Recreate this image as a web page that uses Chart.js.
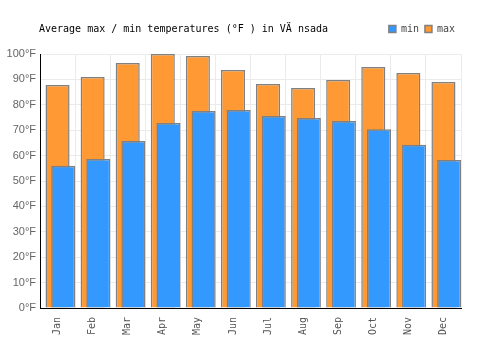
<!DOCTYPE html>
<html lang="en">
  <head>
    <meta charset="UTF-8" />
    <title>Average max / min temperatures</title>
    <script src="https://cdn.jsdelivr.net/npm/chart.js"></script>
    <style>
      body { margin: 0; background: #fff; }
      #wrap { position: relative; width: 500px; height: 350px; }
      #title {
        position: absolute; left: 39px; top: 23px;
        font: 10px "DejaVu Sans Mono", monospace; color: #000;
        white-space: pre;
      }
    </style>
  </head>
  <body>
    <div id="wrap">
      <canvas id="myChart" width="500" height="350"></canvas>
      <div id="title">Average max / min temperatures (°F ) in VÄ nsada</div>
    </div>

    <script>
      const months = ["Jan", "Feb", "Mar", "Apr", "May", "Jun", "Jul", "Aug", "Sep", "Oct", "Nov", "Dec"];
      const maxTemps = [87.8, 90.9, 96.5, 100, 99.2, 93.7, 88.2, 86.6, 89.8, 94.9, 92.5, 89.0];
      const minTemps = [56.0, 58.7, 65.7, 72.8, 77.6, 78.0, 75.6, 74.8, 73.6, 70.4, 64.3, 58.3];
      const yTicks = [0, 10, 20, 30, 40, 50, 60, 70, 80, 90, 100];

      const mono = { family: "'DejaVu Sans Mono', monospace", size: 10 };

      new Chart(document.getElementById("myChart"), {
        type: "bar",
        data: {
          labels: months,
          datasets: [
            {
              label: "min",
              xAxisID: "x2",
              // shifted right inside each month, on its own hidden axis
              data: minTemps.map((v, i) => ({ x: i, y: v })),
              backgroundColor: "#3399ff",
              borderColor: "#808080",
              borderWidth: 1.5,
              grouped: false,
              categoryPercentage: 1,
              barPercentage: 0.686,
            },
            {
              label: "max",
              xAxisID: "x",
              data: maxTemps,
              backgroundColor: "#ff9933",
              borderColor: "#808080",
              borderWidth: 1.5,
              grouped: false,
              categoryPercentage: 1,
              barPercentage: 0.686,
            },
          ],
        },
        options: {
          responsive: false,
          animation: false,
          layout: { padding: { left: 0, right: 39, top: 18, bottom: 0 } },
          plugins: {
            tooltip: { enabled: false },
            // empty title used only as a gap under the legend
            title: {
              display: true,
              text: "",
              weight: 500,
              font: { size: 1, lineHeight: 1 },
              padding: { top: 0, bottom: 9 },
            },
            legend: {
              position: "top",
              align: "end",
              labels: {
                boxWidth: 7,
                boxHeight: 7,
                padding: 6,
                color: "#444",
                font: mono,
              },
            },
          },
          scales: {
            x: {
              type: "category",
              offset: true,
              grid: { offset: true, color: "#ebebeb", drawTicks: false },
              border: { color: "#000", width: 1 },
              ticks: {
                color: "#555",
                font: mono,
                minRotation: 90,
                maxRotation: 90,
                padding: 9,
              },
              afterFit: (s) => { s.height = 42; },
            },
            x2: {
              type: "linear",
              display: false,
              offset: false,
              min: -0.663,
              max: 11.337,
              grid: { display: false },
            },
            y: {
              min: 0,
              max: 100,
              afterBuildTicks: (s) => { s.ticks = yTicks.map((v) => ({ value: v })); },
              grid: { color: "#ebebeb", drawTicks: false },
              border: { color: "#000", width: 1 },
              ticks: {
                color: "#666",
                font: { family: "'Liberation Sans', Arial, sans-serif", size: 11 },
                padding: 4,
                callback: (v) => v + "°F",
              },
              afterFit: (s) => { s.width = 40; },
            },
          },
        },
      });
    </script>
  </body>
</html>
